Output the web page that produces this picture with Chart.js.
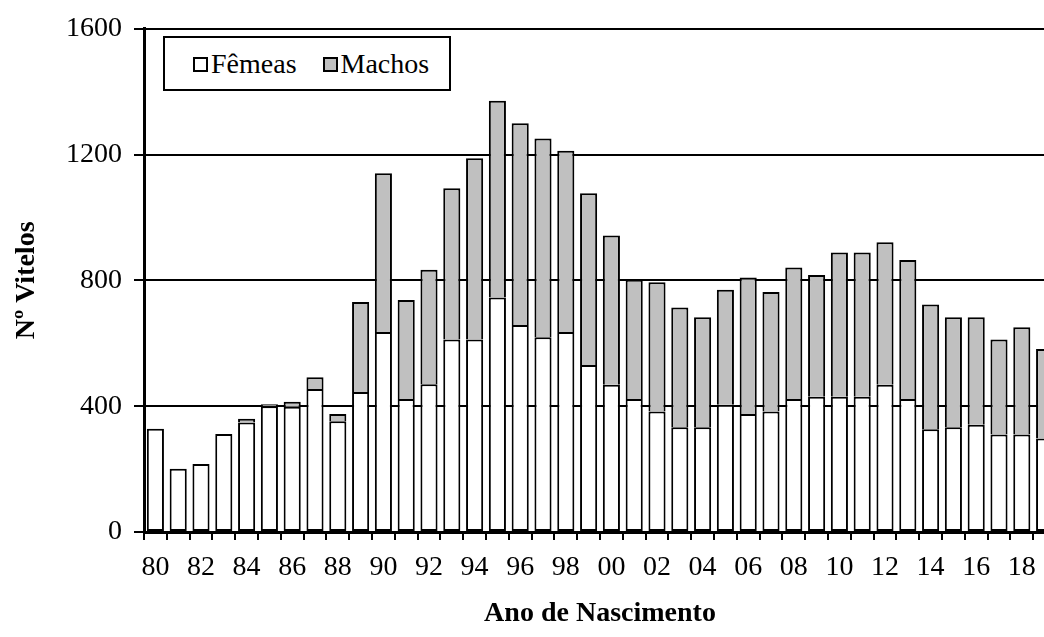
<!DOCTYPE html>
<html>
<head>
<meta charset="utf-8">
<script src="https://cdn.jsdelivr.net/npm/chart.js@4"></script>
<style>
  html, body { margin: 0; padding: 0; background: #fff; overflow: hidden; }
  #wrap { position: relative; width: 1060px; height: 637px; }
  #legend {
    position: absolute; left: 163px; top: 36px; width: 288px; height: 55px;
    border: 2px solid #000; background: #fff;
    font-family: "Liberation Serif"; font-size: 28px; color: #000;
    display: flex; align-items: center; box-sizing: border-box; padding-left: 28px;
  }
  #legend span.box {
    display: inline-block; width: 11px; height: 11px; border: 2px solid #000;
    margin-right: 3px; position: relative; top: 1px;
  }
  #legend .item { margin-right: 26px; white-space: nowrap; display: flex; align-items: center; }
</style>
</head>
<body>
<div id="wrap">
  <canvas id="chart" width="1060" height="637"></canvas>
  <div id="legend">
    <div class="item"><span class="box" style="background:#fff"></span>Fêmeas</div>
    <div class="item"><span class="box" style="background:#c0c0c0"></span>Machos</div>
  </div>
</div>
<script>
// ---------- Data ----------
const years = ["80","81","82","83","84","85","86","87","88","89",
               "90","91","92","93","94","95","96","97","98","99",
               "00","01","02","03","04","05","06","07","08","09",
               "10","11","12","13","14","15","16","17","18","19"];

const femeas = [328, 201, 216, 312, 348, 400, 398, 455, 352, 445,
                636, 423, 470, 612, 612, 746, 658, 619, 636, 531,
                468, 423, 383, 333, 333, 405, 375, 383, 423, 430,
                430, 430, 468, 423, 327, 333, 341, 310, 310, 297];

const machos = [0, 0, 0, 0, 12, 6, 16, 37, 23, 286,
                505, 315, 364, 481, 576, 625, 642, 632, 576, 546,
                475, 379, 411, 381, 350, 365, 434, 380, 418, 387,
                459, 459, 453, 442, 396, 350, 342, 302, 341, 285];

const yTicks = [0, 400, 800, 1200, 1600];

// ---------- Chart ----------
const serif = "Liberation Serif";

new Chart(document.getElementById("chart"), {
  type: "bar",
  data: {
    labels: years,
    datasets: [
      {
        label: "Fêmeas",
        data: femeas,
        backgroundColor: "#ffffff",
        borderColor: "#000000",
        borderWidth: 2,
        borderSkipped: false,
      },
      {
        // bottom edge comes from the top of the white segment
        label: "Machos",
        data: machos,
        backgroundColor: "#c0c0c0",
        borderColor: "#000000",
        borderWidth: { top: 2, left: 2, right: 2, bottom: 0 },
        borderSkipped: false,
      },
    ],
  },
  options: {
    responsive: false,
    animation: false,
    datasets: { bar: { barPercentage: 0.75, categoryPercentage: 1 } },
    layout: { padding: { top: 22, right: 4, bottom: 0, left: 0 } },
    plugins: { legend: { display: false }, tooltip: { enabled: false } },
    scales: {
      x: {
        stacked: true,
        offset: true,
        grid: {
          offset: true,
          drawOnChartArea: false,
          drawTicks: true,
          tickLength: 8,
          color: "#000",
          lineWidth: 2,
        },
        border: { display: true, color: "#000", width: 3 },
        ticks: {
          autoSkip: false,
          maxRotation: 0,
          padding: 11,
          color: "#000",
          font: { family: serif, size: 28 },
          callback: function (v, i) {
            return i % 2 === 0 ? years[i] : "";
          },
        },
        title: {
          display: true,
          text: "Ano de Nascimento",
          color: "#000",
          font: { family: serif, size: 28, weight: "bold" },
          padding: { top: 0, bottom: 6 },
        },
        afterFit: function (s) { s.height = 105; },
      },
      y: {
        stacked: true,
        min: 0,
        max: 1600,
        afterBuildTicks: function (s) {
          s.ticks = yTicks.map((v) => ({ value: v }));
        },
        grid: {
          color: "#000",
          lineWidth: 2,
          drawTicks: true,
          tickLength: 10,
        },
        border: { display: true, color: "#000", width: 3 },
        ticks: {
          padding: 12,
          color: "#000",
          font: { family: serif, size: 28 },
          callback: (v) => String(v),
        },
        title: {
          display: true,
          text: "Nº Vitelos",
          color: "#000",
          font: { family: serif, size: 28, weight: "bold" },
          padding: { top: 10, bottom: 0 },
        },
        afterFit: function (s) { s.width = 144; },
      },
    },
  },
});
</script>
</body>
</html>
